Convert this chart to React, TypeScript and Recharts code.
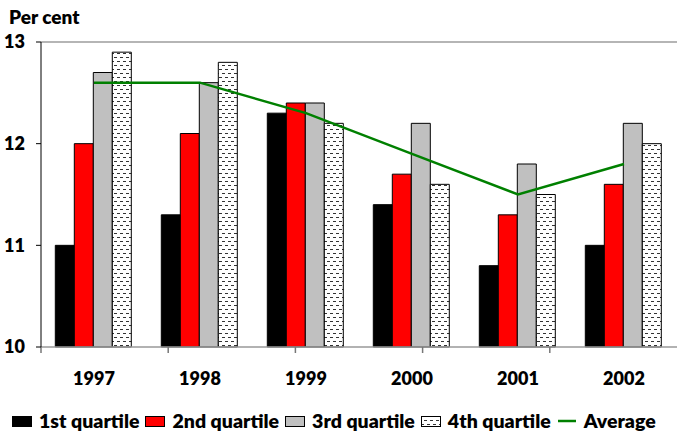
import React from "react"
import {
  ComposedChart,
  Bar,
  Line,
  XAxis,
  YAxis,
  ReferenceLine,
} from "recharts"

const years = ["1997", "1998", "1999", "2000", "2001", "2002"]
const firstQuartile = [11.0, 11.3, 12.3, 11.4, 10.8, 11.0]
const secondQuartile = [12.0, 12.1, 12.4, 11.7, 11.3, 11.6]
const thirdQuartile = [12.7, 12.6, 12.4, 12.2, 11.8, 12.2]
const fourthQuartile = [12.9, 12.8, 12.2, 11.6, 11.5, 12.0]
const average = [12.6, 12.6, 12.3, 11.9, 11.5, 11.8]
const yTicks = [10, 11, 12, 13]
const edgeTicks = [0, 1, 2, 3, 4, 5, 6]

const data = years.map((year, i) => ({
  year,
  q1: firstQuartile[i],
  q2: secondQuartile[i],
  q3: thirdQuartile[i],
  q4: fourthQuartile[i],
  avg: average[i],
}))

const FONT = "Lato, 'Open Sans', sans-serif"
const GREEN = "#008000"
const EDGE = "a_edge"
const CAT = "b_cat"

function DashPattern({ id }: { id: string }) {
  return (
    <pattern id={id} width="6" height="8" patternUnits="userSpaceOnUse">
      <rect width="6" height="8" fill="#fff" />
      <rect x="0" y="1" width="3" height="1" fill="#333" />
      <rect x="3" y="5" width="3" height="1" fill="#333" />
    </pattern>
  )
}

const legendItems = [
  { label: "1st quartile", fill: "#000" },
  { label: "2nd quartile", fill: "#ff0000" },
  { label: "3rd quartile", fill: "#c0c0c0" },
  { label: "4th quartile", fill: "url(#legendDash)" },
  { label: "Average", line: true },
]

function ChartLegend() {
  return (
    <div
      style={{
        position: "absolute",
        left: 12,
        top: 409,
        display: "flex",
        alignItems: "center",
        gap: 6,
        fontFamily: FONT,
        fontWeight: 800,
        fontSize: 19.5,
        color: "#000",
        whiteSpace: "nowrap",
      }}
    >
      {legendItems.map((it) => (
        <span key={it.label} style={{ display: "flex", alignItems: "center", gap: 7 }}>
          <svg width={20} height={12}>
            <defs>
              <DashPattern id="legendDash" />
            </defs>
            {it.line ? (
              <line x1={1} x2={19} y1={6} y2={6} stroke={GREEN} strokeWidth={2.5} />
            ) : (
              <rect x={0.5} y={1.5} width={19} height={10} fill={it.fill} stroke="#000" strokeWidth={1} />
            )}
          </svg>
          {it.label}
        </span>
      ))}
    </div>
  )
}

const noLabel = () => <g />

export default function App() {
  const tickStyle = { fontFamily: FONT, fontWeight: 800, fontSize: 18, fill: "#000" }
  return (
    <div
      style={{
        position: "absolute",
        left: 0,
        top: 0,
        width: 677,
        height: 434,
        background: "#fff",
        overflow: "hidden",
      }}
    >
      <div
        style={{
          position: "absolute",
          left: 9,
          top: 5,
          fontFamily: FONT,
          fontWeight: 800,
          fontSize: 19,
          color: "#000",
        }}
      >
        Per cent
      </div>

      <ComposedChart
        width={677}
        height={434}
        data={data}
        margin={{ top: 42, right: 0, bottom: 37, left: 0 }}
        barCategoryGap="13.5%"
        barGap={0}
      >
        <defs>
          <DashPattern id="barDash" />
        </defs>
        <XAxis
          xAxisId={EDGE}
          type="number"
          domain={[0, 6]}
          ticks={edgeTicks}
          allowDataOverflow
          height={1}
          tick={noLabel}
          tickSize={6}
          axisLine={{ stroke: "#999", strokeWidth: 1.5 }}
          tickLine={{ stroke: "#777", strokeWidth: 1.5 }}
        />
        <XAxis
          xAxisId={CAT}
          dataKey="year"
          height={49}
          axisLine={false}
          tickLine={false}
          tickSize={0}
          tickMargin={24}
          tick={tickStyle}
          interval={0}
        />
        <YAxis
          domain={[10, 13]}
          ticks={yTicks}
          width={41}
          tickSize={5}
          tickMargin={11}
          axisLine={{ stroke: "#000", strokeWidth: 1 }}
          tickLine={{ stroke: "#000" }}
          tick={tickStyle}
        />
        <ReferenceLine xAxisId={CAT} y={13} stroke="#b5b5b5" strokeWidth={2} />
        <Bar xAxisId={CAT} dataKey="q1" fill="#000" stroke="#000" strokeWidth={1} isAnimationActive={false} />
        <Bar xAxisId={CAT} dataKey="q2" fill="#ff0000" stroke="#000" strokeWidth={1} isAnimationActive={false} />
        <Bar xAxisId={CAT} dataKey="q3" fill="#c0c0c0" stroke="#000" strokeWidth={1} isAnimationActive={false} />
        <Bar xAxisId={CAT} dataKey="q4" fill="url(#barDash)" stroke="#000" strokeWidth={1} isAnimationActive={false} />
        <Line
          xAxisId={CAT}
          dataKey="avg"
          type="linear"
          stroke={GREEN}
          strokeWidth={2.5}
          dot={false}
          activeDot={false}
          isAnimationActive={false}
        />
      </ComposedChart>

      <ChartLegend />
    </div>
  )
}
